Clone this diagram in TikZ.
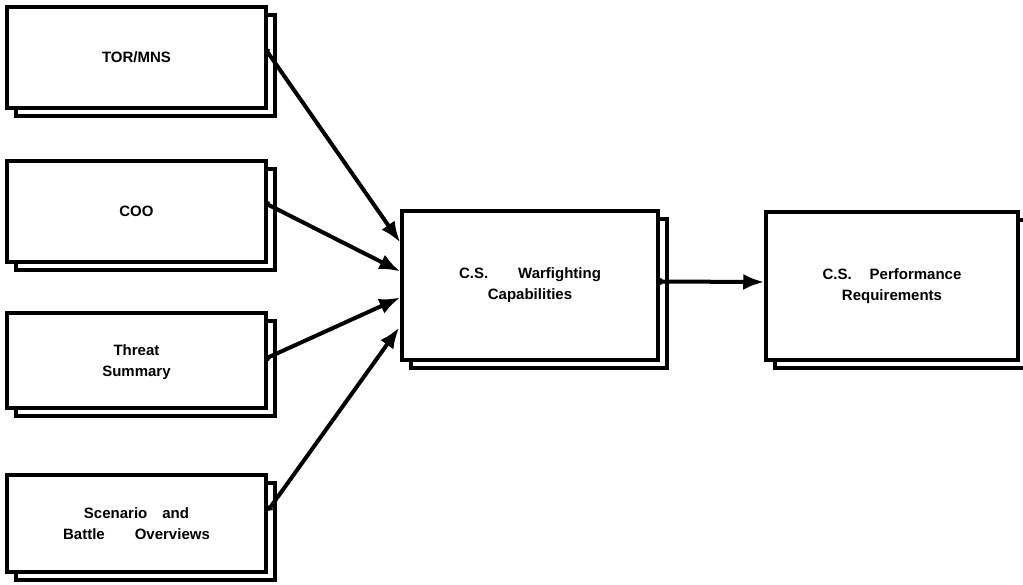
\documentclass[tikz,border=0pt]{standalone}
\usepackage{fontspec}
\setmainfont{Liberation Sans}
\usetikzlibrary{arrows.meta,shadows}
\begin{document}
\begin{tikzpicture}[x=1pt,y=-1pt,
  box/.style={draw=black, line width=3.5pt, fill=white, rectangle, inner sep=0pt,
    font=\fontsize{15}{21}\selectfont\bfseries, align=center,
    general shadow={shadow xshift=9pt, shadow yshift=-8pt, draw=black, line width=3.5pt, fill=white}},
  conn/.style={line width=4pt, {Circle[length=6pt,width=6pt]}-{Latex[length=21pt,width=16pt]}, shorten <=-1pt}
]
\useasboundingbox (0,0) rectangle (1023,584);
% left column
\node[box, minimum width=259pt, minimum height=101pt] (tor) at (136.5,57.5) {TOR/MNS};
\node[box, minimum width=259pt, minimum height=101pt] (coo) at (136.5,211.5) {COO};
\node[box, minimum width=259pt, minimum height=95pt] (thr) at (136.5,360.5) {\rule{0pt}{14pt}Threat\\Summary};
\node[box, minimum width=259pt, minimum height=97pt] (scn) at (136.5,523.5) {Scenario\hspace{1em}and\\Battle\hspace{2em}Overviews};
% centre and right
\node[box, minimum width=256pt, minimum height=149pt] (cap) at (530,285.5) {C.S.\hspace{2em}Warfighting\\Capabilities};
\node[box, minimum width=252pt, minimum height=148pt] (req) at (892,286) {C.S.\hspace{1.2em}Performance\\Requirements};
% anchor coordinates on the edges
\path (tor.east) ++(-2,-8) coordinate (s1);
\path (coo.east) ++(-2,-8) coordinate (s2);
\path (thr.east) ++(-2,-2) coordinate (s3);
\path (scn.east) ++(1,-14) coordinate (s4);
\path (cap.west) ++(0,-43) coordinate (t1);
\path (cap.west) ++(0,-14) coordinate (t2);
\path (cap.west) ++(0,12) coordinate (t3);
\path (cap.west) ++(-1,42) coordinate (t4);
\path (cap.east) ++(-1,-4) coordinate (s5);
\path (req.west) ++(0,-4) coordinate (t5);
\draw[conn] (s1) -- (t1);
\draw[conn] (s2) -- (t2);
\draw[conn] (s3) -- (t3);
\draw[conn] (s4) -- (t4);
\draw[conn] (s5) -- (t5);
\end{tikzpicture}
\end{document}
